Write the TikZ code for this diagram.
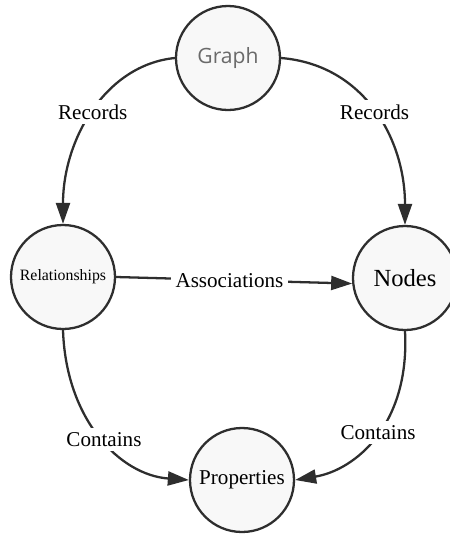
\documentclass[tikz,border=0pt]{standalone}
\usepackage{fontspec}
\setmainfont{Liberation Serif}
\newfontfamily\graphfont{Open Sans}
\usepackage{tikz}
\usetikzlibrary{arrows.meta}
\definecolor{edgegray}{HTML}{2E2E2E}
\definecolor{fillgray}{HTML}{F8F8F8}
\definecolor{textgray}{HTML}{6A6A6A}

\begin{document}
\begin{tikzpicture}[>={Triangle[length=4.2mm, width=2.8mm]}, font=\fontsize{12}{14}\selectfont,
    entity/.style={circle, draw=edgegray, fill=fillgray, line width=1.3pt, minimum size=2.08cm, inner sep=0pt},
    rel/.style={fill=white, inner sep=2.5pt},
    link/.style={->, draw=edgegray, line width=1.3pt}]
        \useasboundingbox (0,0) rectangle (9,-10.7);
        \node[entity] (graph) at (4.56,-1.16) {\graphfont\color{textgray}Graph};
        \node[entity] (relships) at (1.26,-5.54) {\fontsize{9}{10}\selectfont Relationships};
        \node[entity] (nodes) at (8.1,-5.56) {\fontsize{14}{16}\selectfont Nodes};
        \node[entity] (props) at (4.84,-9.6) {Properties};
        \draw[link] (graph.west) .. controls (2.1,-1.3) and (1.26,-2.8) .. node[rel, pos=0.5] (recleft) {Records} (relships.north);
        \draw[link] (graph.east) .. controls (7.3,-1.3) and (8.1,-2.8) .. node[rel, pos=0.5] (recright) {Records} (nodes.north);
        \draw[link] (relships.east) -- node[rel, pos=0.48] (assoc) {Associations} (nodes.186);
        \draw[link] (relships.south) .. controls (1.32,-8.4) and (2.4,-9.5) .. node[rel, pos=0.52] (conleft) {Contains} (props.west);
        \draw[link] (nodes.south) .. controls (8.2,-8.5) and (7.1,-9.4) .. node[rel, pos=0.47] (conright) {Contains} (props.east);
    \end{tikzpicture}
\end{document}
